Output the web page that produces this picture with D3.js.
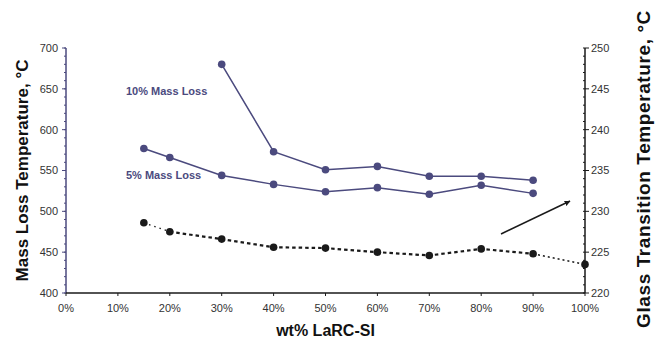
<!DOCTYPE html>
<html>
<head>
<meta charset="utf-8">
<script src="https://cdn.jsdelivr.net/npm/d3@7"></script>
<style>
  body { margin: 0; background: #fff; }
  svg { display: block; font-family: "Liberation Sans", Arial, sans-serif; }
  .tick-label { font-size: 11px; fill: #333; }
  .axis-title { font-size: 17px; font-weight: bold; fill: #111; }
</style>
</head>
<body>
<svg id="chart" width="661" height="345"></svg>
<script>
// data
var loadings = [15, 20, 30, 40, 50, 60, 70, 80, 90];
var loss5 = [577, 566, 544, 533, 524, 529, 521, 532, 522];
var loss10Loadings = [30, 40, 50, 60, 70, 80, 90];
var loss10 = [680, 573, 551, 555, 543, 543, 538];
var tgLoadings = [15, 20, 30, 40, 50, 60, 70, 80, 90, 100];
var tgValues = [228.6, 227.5, 226.6, 225.6, 225.5, 225.0, 224.6, 225.4, 224.8, 223.5];
var xTicks = [0, 10, 20, 30, 40, 50, 60, 70, 80, 90, 100];

var purple = "#4b4a7e";
var dark = "#1a1a1a";

var svg = d3.select("#chart");
var margin = { left: 66, right: 76, top: 48, bottom: 52 };
var width = 661, height = 345;

var x = d3.scaleLinear().domain([0, 100]).range([margin.left, width - margin.right]);
var yL = d3.scaleLinear().domain([400, 700]).range([height - margin.bottom, margin.top]);
var yR = d3.scaleLinear().domain([220, 250]).range([height - margin.bottom, margin.top]);

// left axis
var leftAxis = svg.append("g").attr("transform", "translate(" + margin.left + ",0)");
leftAxis.selectAll(".minor")
  .data(d3.range(400, 701, 10))
  .enter().append("line")
  .attr("x1", -2).attr("x2", 0)
  .attr("y1", d => yL(d)).attr("y2", d => yL(d))
  .attr("stroke", purple).attr("stroke-width", 1);
leftAxis.selectAll(".major")
  .data(yL.ticks(6))
  .enter().append("line")
  .attr("x1", -4).attr("x2", 0)
  .attr("y1", d => yL(d)).attr("y2", d => yL(d))
  .attr("stroke", purple).attr("stroke-width", 1);
leftAxis.append("line")
  .attr("y1", yL(400)).attr("y2", yL(700))
  .attr("stroke", purple).attr("stroke-width", 1.5);
leftAxis.selectAll(".tick-label")
  .data(yL.ticks(6))
  .enter().append("text")
  .attr("class", "tick-label")
  .attr("x", -8).attr("y", d => yL(d)).attr("dy", "0.35em")
  .attr("text-anchor", "end")
  .text(d => d);

// right axis
var rx = width - margin.right;
var rightAxis = svg.append("g").attr("transform", "translate(" + rx + ",0)");
rightAxis.selectAll(".minor")
  .data(d3.range(220, 250.1, 1))
  .enter().append("line")
  .attr("x1", -2).attr("x2", 0)
  .attr("y1", d => yR(d)).attr("y2", d => yR(d))
  .attr("stroke", dark).attr("stroke-width", 1);
rightAxis.selectAll(".major")
  .data(yR.ticks(6))
  .enter().append("line")
  .attr("x1", 0).attr("x2", 4)
  .attr("y1", d => yR(d)).attr("y2", d => yR(d))
  .attr("stroke", dark).attr("stroke-width", 1);
rightAxis.append("line")
  .attr("y1", yR(220)).attr("y2", yR(250))
  .attr("stroke", dark).attr("stroke-width", 1.5);
rightAxis.selectAll(".tick-label")
  .data(yR.ticks(6))
  .enter().append("text")
  .attr("class", "tick-label")
  .attr("x", 6).attr("y", d => yR(d)).attr("dy", "0.35em")
  .text(d => d);

// bottom axis
var by = height - margin.bottom;
var bottomAxis = svg.append("g").attr("transform", "translate(0," + by + ")");
bottomAxis.append("line")
  .attr("x1", x(0)).attr("x2", x(100))
  .attr("stroke", dark).attr("stroke-width", 1.5);
bottomAxis.selectAll(".major")
  .data(xTicks)
  .enter().append("line")
  .attr("x1", d => x(d)).attr("x2", d => x(d))
  .attr("y1", 0).attr("y2", 3)
  .attr("stroke", dark).attr("stroke-width", 1);
bottomAxis.selectAll(".tick-label")
  .data(xTicks)
  .enter().append("text")
  .attr("class", "tick-label")
  .attr("x", d => x(d)).attr("y", 19)
  .attr("text-anchor", "middle")
  .text(d => d + "%");

// titles
svg.append("text")
  .attr("class", "axis-title")
  .attr("transform", "translate(28," + (yL(550)) + ") rotate(-90)")
  .attr("text-anchor", "middle")
  .text("Mass Loss Temperature, °C");

svg.append("text")
  .attr("class", "axis-title")
  .style("font-size", "19px")
  .style("letter-spacing", "0.6px")
  .attr("transform", "translate(650,169) rotate(-90)")
  .attr("text-anchor", "middle")
  .text("Glass Transition Temperature, °C");

svg.append("text")
  .attr("class", "axis-title")
  .style("font-size", "16px")
  .attr("x", x(50)).attr("y", 336)
  .attr("text-anchor", "middle")
  .text("wt% LaRC-SI");

// mass loss lines
var lineL = d3.line().x(d => x(d[0])).y(d => yL(d[1]));

function drawSeries(xs, ys, color) {
  var pts = xs.map((v, i) => [v, ys[i]]);
  svg.append("path")
    .attr("d", lineL(pts))
    .attr("fill", "none")
    .attr("stroke", color)
    .attr("stroke-width", 1.5);
  svg.selectAll(null)
    .data(pts)
    .enter().append("circle")
    .attr("cx", d => x(d[0])).attr("cy", d => yL(d[1]))
    .attr("r", 3.8)
    .attr("fill", color);
}

drawSeries(loss10Loadings, loss10, purple);
drawSeries(loadings, loss5, purple);

// Tg line, dotted at the ends, dashed in the middle
var tgPts = tgLoadings.map((v, i) => [v, tgValues[i]]);
var lineR = d3.line().x(d => x(d[0])).y(d => yR(d[1]));
var last = tgPts.length - 1;
svg.append("path")
  .attr("d", lineR(tgPts.slice(0, 2)))
  .attr("fill", "none").attr("stroke", dark)
  .attr("stroke-width", 1.3).attr("stroke-dasharray", "1.5,4");
svg.append("path")
  .attr("d", lineR(tgPts.slice(1, last)))
  .attr("fill", "none").attr("stroke", dark)
  .attr("stroke-width", 2.2).attr("stroke-dasharray", "3.5,3");
svg.append("path")
  .attr("d", lineR(tgPts.slice(last - 1)))
  .attr("fill", "none").attr("stroke", dark)
  .attr("stroke-width", 1.5).attr("stroke-dasharray", "2,3");
svg.selectAll(null)
  .data(tgPts)
  .enter().append("circle")
  .attr("cx", d => x(d[0])).attr("cy", d => yR(d[1]))
  .attr("r", 3.8)
  .attr("fill", dark);

// series labels
svg.append("text")
  .attr("x", 126).attr("y", 95)
  .attr("fill", purple)
  .style("font-size", "11px").style("font-weight", "bold")
  .text("10% Mass Loss");
svg.append("text")
  .attr("x", 126).attr("y", 179)
  .attr("fill", purple)
  .style("font-size", "11px").style("font-weight", "bold")
  .text("5% Mass Loss");

// arrow pointing to the Tg axis
svg.append("defs").append("marker")
  .attr("id", "head")
  .attr("viewBox", "0 0 10 10")
  .attr("refX", 9).attr("refY", 5)
  .attr("markerWidth", 6).attr("markerHeight", 6)
  .attr("markerUnits", "userSpaceOnUse")
  .attr("orient", "auto")
  .append("path")
  .attr("d", "M0,0 L10,5 L0,10 Z")
  .attr("fill", dark);
svg.append("line")
  .attr("x1", 501).attr("y1", 234)
  .attr("x2", 570).attr("y2", 201)
  .attr("stroke", dark).attr("stroke-width", 1.5)
  .attr("marker-end", "url(#head)");
</script>
</body>
</html>
